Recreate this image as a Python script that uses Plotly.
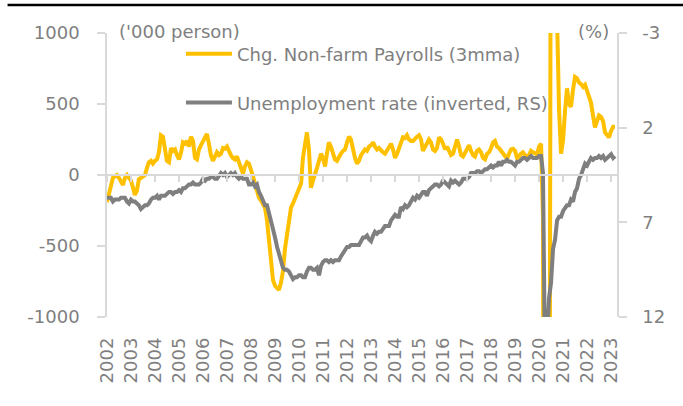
import plotly.graph_objects as go
import pandas as pd

# Monthly data, Jan 2002 - Mar 2023
start_month = "2002-01-01"

payrolls_3mma = [
    -190, -130, -70, -20, -10, 0, -20, -50, -70, -20, 0, -20,          # 2002
    -40, -90, -140, -110, -30, -20, -10, 0, 50, 90, 100, 80,           # 2003
    100, 110, 160, 280, 270, 180, 100, 90, 190, 170, 180, 140,         # 2004
    110, 160, 230, 220, 240, 200, 270, 240, 120, 110, 180, 210,        # 2005
    240, 270, 290, 220, 140, 100, 130, 160, 140, 150, 190, 185,        # 2006
    200, 160, 140, 120, 110, 130, 90, 40, 10, 60, 90, 80,              # 2007
    20, -10, -60, -120, -160, -180, -200, -230, -320, -470, -620, -740,  # 2008
    -780, -800, -810, -760, -680, -520, -420, -330, -230, -200, -160, -130,  # 2009
    -100, -60, 120, 200, 300, 180, -90, -40, 0, 50, 100, 150,          # 2010
    120, 60, 150, 230, 200, 140, 110, 100, 130, 150, 170, 180,         # 2011
    230, 270, 250, 180, 120, 80, 100, 140, 160, 180, 170, 200,         # 2012
    210, 230, 200, 180, 190, 170, 160, 150, 170, 200, 220, 180,        # 2013
    120, 150, 190, 240, 265, 260, 280, 250, 240, 240, 260, 270,        # 2014
    280, 250, 170, 200, 230, 250, 230, 180, 170, 190, 265, 250,        # 2015
    220, 180, 200, 170, 140, 150, 210, 250, 200, 140, 130, 160,        # 2016
    190, 210, 170, 140, 130, 170, 180, 160, 120, 110, 150, 160,        # 2017
    190, 230, 240, 200, 190, 170, 160, 130, 115, 150, 180, 185,        # 2018
    170, 120, 130, 150, 160, 140, 130, 140, 170, 160, 150, 145,        # 2019
    200, 220, -300, -7000, -6400, -4300, 3100, 2700, 1300, 1100, 450, 150,  # 2020
    250, 460, 610, 500, 480, 600, 690, 680, 650, 640, 620, 635,        # 2021
    590, 560, 510, 420, 335, 380, 420, 410, 380, 300, 280, 265,        # 2022
    310, 340, 340,                                                     # 2023
]

unemployment_rate = [
    5.7, 5.7, 5.7, 5.9, 5.8, 5.8, 5.8, 5.7, 5.7, 5.7, 5.9, 6.0,   # 2002
    5.8, 5.9, 5.9, 6.0, 6.1, 6.3, 6.2, 6.1, 6.1, 6.0, 5.8, 5.7,   # 2003
    5.7, 5.6, 5.8, 5.6, 5.6, 5.6, 5.5, 5.4, 5.4, 5.5, 5.4, 5.4,   # 2004
    5.3, 5.4, 5.2, 5.2, 5.1, 5.0, 5.0, 4.9, 5.0, 5.0, 5.0, 4.9,   # 2005
    4.7, 4.8, 4.7, 4.7, 4.6, 4.6, 4.7, 4.7, 4.5, 4.4, 4.5, 4.4,   # 2006
    4.6, 4.5, 4.4, 4.5, 4.4, 4.6, 4.7, 4.6, 4.7, 4.7, 4.7, 5.0,   # 2007
    5.0, 4.9, 5.1, 5.0, 5.4, 5.6, 5.8, 6.1, 6.1, 6.5, 6.8, 7.3,   # 2008
    7.8, 8.3, 8.7, 9.0, 9.4, 9.5, 9.5, 9.6, 9.8, 10.0, 9.9, 9.9,  # 2009
    9.8, 9.8, 9.9, 9.9, 9.6, 9.4, 9.4, 9.5, 9.5, 9.4, 9.8, 9.3,   # 2010
    9.1, 9.0, 9.0, 9.1, 9.0, 9.1, 9.0, 9.0, 9.0, 8.8, 8.6, 8.5,   # 2011
    8.3, 8.3, 8.2, 8.2, 8.2, 8.2, 8.2, 8.0, 7.8, 7.8, 7.7, 7.9,   # 2012
    8.0, 7.7, 7.5, 7.6, 7.5, 7.5, 7.3, 7.2, 7.2, 7.2, 6.9, 6.7,   # 2013
    6.6, 6.7, 6.7, 6.2, 6.3, 6.1, 6.2, 6.1, 5.9, 5.7, 5.8, 5.6,   # 2014
    5.7, 5.5, 5.4, 5.4, 5.6, 5.3, 5.2, 5.1, 5.0, 5.0, 5.1, 5.0,   # 2015
    4.8, 4.9, 5.0, 5.1, 4.8, 4.9, 4.8, 4.9, 5.0, 4.9, 4.7, 4.7,   # 2016
    4.7, 4.6, 4.4, 4.4, 4.4, 4.3, 4.3, 4.4, 4.3, 4.2, 4.2, 4.1,   # 2017
    4.0, 4.1, 4.0, 4.0, 3.8, 4.0, 3.8, 3.8, 3.7, 3.8, 3.8, 3.9,   # 2018
    4.0, 3.8, 3.8, 3.7, 3.6, 3.6, 3.7, 3.6, 3.5, 3.6, 3.6, 3.6,   # 2019
    3.5, 3.5, 4.4, 14.7, 13.2, 11.0, 10.2, 8.4, 7.9, 6.9, 6.7, 6.7,  # 2020
    6.4, 6.2, 6.1, 6.1, 5.8, 5.9, 5.4, 5.2, 4.7, 4.5, 4.2, 3.9,   # 2021
    4.0, 3.8, 3.6, 3.7, 3.6, 3.6, 3.5, 3.6, 3.5, 3.7, 3.6, 3.5,   # 2022
    3.4, 3.6, 3.5,                                                # 2023
]

year_ticks = list(range(2002, 2024))
left_ticks = [-1000, -500, 0, 500, 1000]
right_ticks = [-3, 2, 7, 12]
left_range = [-1000, 1000]
right_range = [12, -3]  # inverted
x_end = "2023-04-01"

dates = pd.date_range(start_month, periods=len(payrolls_3mma), freq="MS")
tick_dates = [f"{y}-01-01" for y in year_ticks]
tick_text = [str(y) for y in year_ticks]
left_text = [str(v) for v in left_ticks]     # plain hyphen minus
right_text = [str(v) for v in right_ticks]

FONT = "DejaVu Sans"
TXT = "#7f7f7f"
AXC = "#d9d9d9"
YEL = "#FFC000"
GRY = "#7f7f7f"

fig = go.Figure()
fig.add_trace(go.Scatter(
    x=dates, y=payrolls_3mma, mode="lines", name="Chg. Non-farm Payrolls (3mma)",
    line=dict(color=YEL, width=4), xaxis="x", yaxis="y", legend="legend",
))
fig.add_trace(go.Scatter(
    x=dates, y=unemployment_rate, mode="lines", name="Unemployment rate (inverted, RS)",
    line=dict(color=GRY, width=4), xaxis="x", yaxis="y2", legend="legend2",
))
# invisible helper trace so the zero-line axis is drawn
fig.add_trace(go.Scatter(
    x=[dates[0]], y=[None], mode="lines", showlegend=False, hoverinfo="skip",
    xaxis="x2", yaxis="y",
))

zero_pos = (0 - left_range[0]) / (left_range[1] - left_range[0])

fig.update_layout(
    width=683, height=406,
    margin=dict(l=107, r=66, t=33, b=89),
    paper_bgcolor="white", plot_bgcolor="white",
    font=dict(family=FONT, size=18, color=TXT),
    xaxis=dict(
        type="date", range=[start_month, x_end],
        tickvals=tick_dates, ticktext=tick_text, tickangle=-90,
        showline=False, showgrid=False, zeroline=False, ticks="",
        ticklabelstandoff=16,
        tickfont=dict(family=FONT, size=18, color=TXT),
    ),
    xaxis2=dict(
        type="date", overlaying="x", matches="x", anchor="free", position=zero_pos,
        tickvals=tick_dates, showticklabels=False, showgrid=False, zeroline=False,
        showline=True, linecolor=AXC, linewidth=1.5,
        ticks="outside", ticklen=6, tickcolor=AXC, tickwidth=1.5,
    ),
    yaxis=dict(
        range=left_range, tickvals=left_ticks, ticktext=left_text,
        showgrid=False, zeroline=False,
        showline=True, linecolor=AXC, linewidth=1.5,
        ticks="outside", ticklen=8, tickcolor=AXC, tickwidth=1.5,
        ticklabelstandoff=14,
        tickfont=dict(family=FONT, size=18, color=TXT),
    ),
    yaxis2=dict(
        range=right_range, tickvals=right_ticks, ticktext=right_text,
        overlaying="y", side="right",
        showgrid=False, zeroline=False,
        showline=True, linecolor=AXC, linewidth=1.5,
        ticks="outside", ticklen=8, tickcolor=AXC, tickwidth=1.5,
        ticklabelstandoff=12,
        tickfont=dict(family=FONT, size=18, color=TXT),
    ),
    legend=dict(
        x=0.145, y=0.926, xanchor="left", yanchor="middle", itemwidth=46,
        bgcolor="rgba(0,0,0,0)", font=dict(family=FONT, size=18, color=TXT),
    ),
    legend2=dict(
        x=0.145, y=0.754, xanchor="left", yanchor="middle", itemwidth=46,
        bgcolor="rgba(0,0,0,0)", font=dict(family=FONT, size=18, color=TXT),
    ),
    showlegend=True,
    annotations=[
        dict(text="('000 person)", xref="paper", yref="paper", x=0.02, y=1.007,
             xanchor="left", yanchor="middle", showarrow=False,
             font=dict(family=FONT, size=18, color=TXT)),
        dict(text="(%)", xref="paper", yref="paper", x=0.988, y=1.007,
             xanchor="right", yanchor="middle", showarrow=False,
             font=dict(family=FONT, size=18, color=TXT)),
    ],
    shapes=[
        dict(type="line", xref="paper", yref="paper", x0=-0.195, x1=1.2,
             y0=1.0986, y1=1.0986, layer="above", line=dict(color="black", width=2.5)),
    ],
)

fig.write_html(
    "out.html",
    post_script=(
        "document.body.style.margin='0px';"
        "document.querySelectorAll('.modebar-container').forEach(function(e){e.style.display='none';});"
    ),
)
